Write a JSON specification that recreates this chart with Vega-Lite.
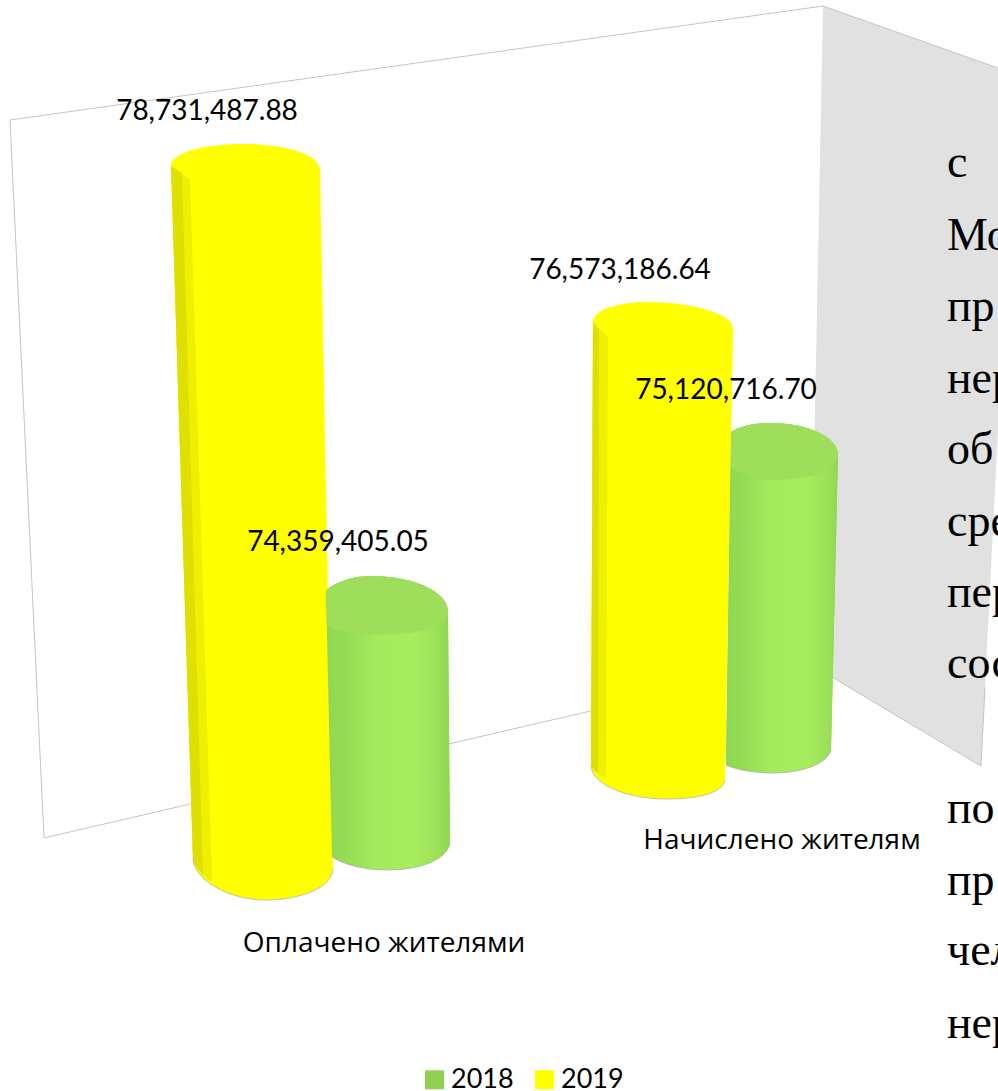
{
"$schema":"https://vega.github.io/schema/vega-lite/v6.json",
"width":998,"height":1091,"padding":0,"background":"white",
"autosize":{"type":"fit","contains":"padding"},
"config":{"view":{"stroke":null}},
"datasets":{
"main":[
{"category":"Оплачено жителями","year":2018,"key":"O2018","value":74359405.05},
{"category":"Оплачено жителями","year":2019,"key":"O2019","value":78731487.88},
{"category":"Начислено жителям","year":2018,"key":"N2018","value":75120716.70},
{"category":"Начислено жителям","year":2019,"key":"N2019","value":76573186.64}],
"page":[
{"line":1,"text":"с"},{"line":2,"text":"Мо"},{"line":3,"text":"пр"},{"line":4,"text":"нер"},{"line":5,"text":"об"},{"line":6,"text":"сре"},{"line":7,"text":"пер"},{"line":8,"text":"сос"},{"line":9,"text":"по"},{"line":10,"text":"пр"},{"line":11,"text":"чел"},{"line":12,"text":"нер"}]
},
"data":{"name":"main"},
"encoding":{
"x":{"field":"value","type":"quantitative","axis":null,"scale":{"domain":[74359405.05,75120716.70,76573186.64,78731487.88],"range":[388,782,663,245],"zero":false,"nice":false}},
"y":{"field":"value","type":"quantitative","axis":null,"scale":{"domain":[74359405.05,75120716.70,76573186.64,78731487.88],"range":[610,452,325,165],"zero":false,"nice":false}}
},
"layer":[
{"transform":[{"filter":"datum.key=='O2019'"}],
 "mark":{"type":"point","filled":true,"opacity":1,"size":4,"fill":"#e1e1e1","shape":"M578,-159 L753,-97 L753,265 L740,522 L736,601 L565,499 Z"}},
{"transform":[{"filter":"datum.key=='O2019'"}],
 "mark":{"type":"point","filled":false,"opacity":1,"size":4,"stroke":"#c4c4c4","strokeWidth":1,"shape":"M-201,673 L-235,-45 L578,-159 L753,-97 M-201,673 L565,495 M565,499 L736,601 L740,522"}},
{"mark":{"type":"point","filled":true,"opacity":1,"size":4},
 "encoding":{
  "fill":{"field":"year","type":"nominal","scale":{"domain":[2018,2019],"range":["#92d050","#ffff00"]},
    "legend":{"orient":"none","legendX":421,"legendY":1066,"direction":"horizontal","title":null,"symbolType":"square","symbolSize":361,"symbolStrokeWidth":0,"labelFont":"Lato","labelFontSize":27,"labelColor":"#000","labelOffset":3,"columnPadding":17,"padding":0}},
  "shape":{"field":"key","type":"nominal","legend":null,"scale":{"domain":["O2018","O2019","N2018","N2019"],"range":[
   "M-62,-20 C-48,-30 -33,-34 -16,-34 C22,-34 60,-20 60,2 L62,233 C59,250 32,260 -1,260 C-23,260 -43,255 -56,247 Z",
   "M-74,1 C-74,-13 -40,-21 0,-21 C40,-21 75,-11 75,5 L88,703 C88,723 55,735 20,735 C-15,735 -52,715 -52,693 Z",
   "M-51,-20 C-40,-27 -25,-29 -10,-29 C25,-29 56,-15 56,3 L49,298 C45,312 20,321 -9,321 C-27,321 -45,318 -56,313 Z",
   "M-70,-3 C-70,-15 -45,-23 -15,-23 C25,-23 70,-12 70,3 L62,455 C60,468 35,474 4,474 C-35,474 -72,460 -72,440 Z"]}}
 }},
{"transform":[{"filter":"datum.year==2018"}],
 "mark":{"type":"point","filled":true,"opacity":1,"size":4,"fill":{"gradient":"linear","x1":0,"x2":1,"y1":0,"y2":0,"stops":[{"offset":0,"color":"#8fd653"},{"offset":0.2,"color":"#98df57"},{"offset":0.4,"color":"#a5ea5c"},{"offset":0.7,"color":"#a7ed5d"},{"offset":0.87,"color":"#9ee359"},{"offset":1,"color":"#90d753"}]}},
 "encoding":{"shape":{"field":"key","type":"nominal","legend":null,"scale":{"domain":["O2018","N2018"],"range":[
   "M-62,-20 C-48,-30 -33,-34 -16,-34 C22,-34 60,-20 60,2 L62,233 C59,250 32,260 -1,260 C-23,260 -43,255 -56,247 Z",
   "M-51,-20 C-40,-27 -25,-29 -10,-29 C25,-29 56,-15 56,3 L49,298 C45,312 20,321 -9,321 C-27,321 -45,318 -56,313 Z"]}}}},
{"transform":[{"filter":"datum.year==2018"}],
 "mark":{"type":"point","filled":true,"opacity":1,"size":4,"fill":"#9ede5a"},
 "encoding":{"shape":{"field":"key","type":"nominal","legend":null,"scale":{"domain":["O2018","N2018"],"range":[
   "M-62,-20 C-48,-30 -33,-34 -16,-34 C22,-34 60,-20 60,2 C60,14 40,25 -15,25 C-32,25 -48,22 -61,15 Z",
   "M-51,-20 C-40,-27 -25,-29 -10,-29 C25,-29 56,-15 56,3 C56,15 35,28 -10,28 C-25,28 -40,22 -51,15 Z"]}}}},
{"transform":[{"filter":"datum.year==2019"}],
 "mark":{"type":"point","filled":true,"opacity":1,"size":4,"fill":"#efef00"},
 "encoding":{"shape":{"field":"key","type":"nominal","legend":null,"scale":{"domain":["O2019","N2019"],"range":[
   "M-74,1 Q-65,9 -55,14 L-33,717 Q-45,710 -52,695 Z",
   "M-70,-3 Q-62,6 -55,12 L-57,453 Q-70,448 -72,440 Z"]}}}},
{"transform":[{"filter":"datum.year==2019"}],
 "mark":{"type":"point","filled":true,"opacity":1,"size":4,"fill":"#e0e000"},
 "encoding":{"shape":{"field":"key","type":"nominal","legend":null,"scale":{"domain":["O2019","N2019"],"range":[
   "M-74,1 L-63,8 L-42,710 Q-49,703 -52,695 Z",
   "M-70,-3 L-64,5 L-65,448 Q-70,445 -72,440 Z"]}}}},
{"mark":{"type":"point","filled":false,"opacity":1,"size":4,"stroke":"#b4b4a8","strokeWidth":0.8},
 "encoding":{"shape":{"field":"key","type":"nominal","legend":null,"scale":{"domain":["O2018","O2019","N2018","N2019"],"range":[
   "M62,233 C59,250 32,260 -1,260 C-23,260 -43,255 -56,247",
   "M88,703 C88,723 55,735 20,735 C-15,735 -52,715 -52,693",
   "M49,298 C45,312 20,321 -9,321 C-27,321 -45,318 -56,313",
   "M62,455 C60,468 35,474 4,474 C-35,474 -72,460 -72,440"]}}}},
{"mark":{"type":"text","font":"Lato","fontSize":28,"color":"#000","align":"center","baseline":"alphabetic"},
 "encoding":{
  "text":{"field":"value","type":"quantitative","format":",.2f"},
  "x":{"field":"value","type":"quantitative","axis":null,"scale":{"domain":[74359405.05,75120716.70,76573186.64,78731487.88],"range":[338,726,620,207],"zero":false,"nice":false}},
  "y":{"field":"value","type":"quantitative","axis":null,"scale":{"domain":[74359405.05,75120716.70,76573186.64,78731487.88],"range":[551,399,279,120],"zero":false,"nice":false}}}},
{"transform":[{"filter":"datum.year==2018"}],
 "mark":{"type":"text","font":"Open Sans","fontSize":28,"color":"#000","align":"center","baseline":"alphabetic"},
 "encoding":{
  "text":{"field":"category","type":"nominal"},
  "x":{"field":"category","type":"ordinal","axis":null,"scale":{"type":"point","padding":0,"domain":["Оплачено жителями","Начислено жителям"],"range":[384,782]}},
  "y":{"field":"category","type":"ordinal","axis":null,"scale":{"type":"point","padding":0,"domain":["Оплачено жителями","Начислено жителям"],"range":[952,849]}}}},
{"data":{"name":"page"},
 "mark":{"type":"text","font":"Liberation Serif","fontSize":46,"color":"#000","align":"left","baseline":"alphabetic"},
 "encoding":{
  "text":{"field":"text","type":"nominal"},
  "x":{"field":"line","type":"quantitative","axis":null,"scale":{"domain":[1,12],"range":[947,947],"zero":false,"nice":false}},
  "y":{"field":"line","type":"quantitative","axis":null,"scale":{"domain":[1,2,3,4,5,6,7,8,9,10,11,12],"range":[177,250,321,393,464,536,607,678,823,895,965,1038],"zero":false,"nice":false}}}}
],
"resolve":{"scale":{"x":"independent","y":"independent","shape":"independent"}}
}
